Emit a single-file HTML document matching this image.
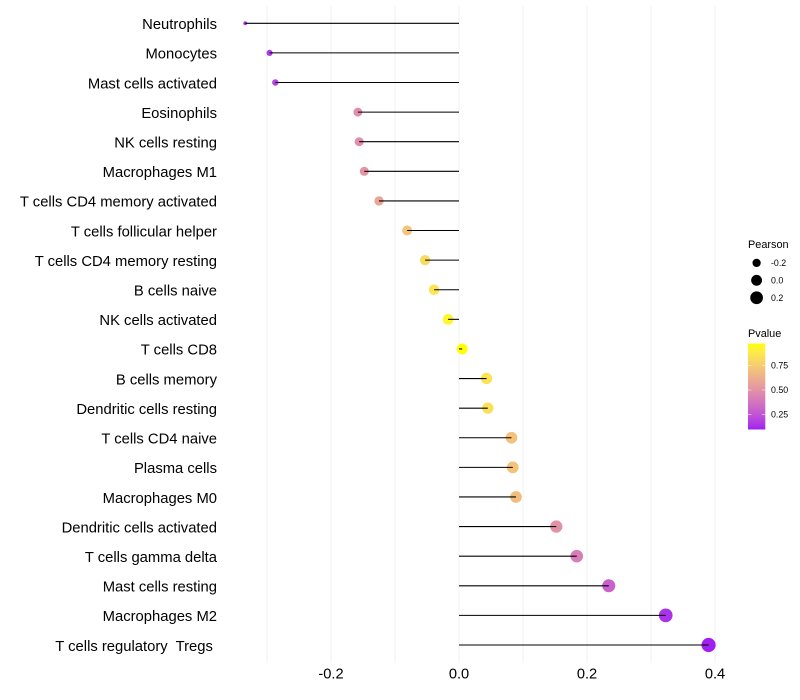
<!DOCTYPE html>
<html>
<head>
<meta charset="utf-8">
<title>Immune cell correlation lollipop chart</title>
<style>
html,body{margin:0;padding:0;background:#fff;}
svg{display:block;font-family:"Liberation Sans",sans-serif;}
</style>
</head>
<body>
<svg id="chart" xmlns="http://www.w3.org/2000/svg" width="800" height="700" viewBox="0 0 800 700">
  <defs><linearGradient id="pvalue-gradient" x1="0" y1="1" x2="0" y2="0"></linearGradient></defs>
  <g id="grid"></g>
  <g id="dots"></g>
  <g id="stems"></g>
  <g id="ylabels"></g>
  <g id="xlabels"></g>
  <g id="size-legend">
    <text x="748" y="248" font-size="10.9" fill="#000">Pearson</text>
  </g>
  <g id="color-legend">
    <text x="748" y="337" font-size="10.9" fill="#000">Pvalue</text>
  </g>
</svg>
<script>
const categories = ["Neutrophils","Monocytes","Mast cells activated","Eosinophils","NK cells resting","Macrophages M1","T cells CD4 memory activated","T cells follicular helper","T cells CD4 memory resting","B cells naive","NK cells activated","T cells CD8","B cells memory","Dendritic cells resting","T cells CD4 naive","Plasma cells","Macrophages M0","Dendritic cells activated","T cells gamma delta","Mast cells resting","Macrophages M2","T cells regulatory  Tregs "];
const pearson = [-0.334,-0.296,-0.287,-0.158,-0.156,-0.148,-0.125,-0.081,-0.053,-0.039,-0.017,0.005,0.043,0.045,0.082,0.084,0.089,0.152,0.184,0.234,0.323,0.39];
const pvalue = [0.13,0.17,0.19,0.48,0.48,0.51,0.58,0.72,0.81,0.86,0.94,0.974,0.85,0.84,0.71,0.71,0.69,0.5,0.41,0.3,0.14,0.097];
const xMajorTicks = [-0.2,0,0.2,0.4];
const xMinorTicks = [-0.3,-0.1,0.1,0.3];
const xTickLabels = ["-0.2","0.0","0.2","0.4"];
const sizeLegendValues = [-0.2,0,0.2];
const sizeLegendLabels = ["-0.2","0.0","0.2"];
const colorLegendValues = [0.25,0.5,0.75];
const colorLegendLabels = ["0.25","0.50","0.75"];
const pvalueLimits = [0.097,0.974];

const NS = "http://www.w3.org/2000/svg";
function make(parent, tag, attrs, text){
  const el = document.createElementNS(NS, tag);
  for (const k in attrs) el.setAttribute(k, attrs[k]);
  if (text !== undefined) el.textContent = text;
  document.getElementById(parent).appendChild(el);
  return el;
}
const xScale = v => 459 + 640 * v;
const yScale = i => 23.29 + 29.605 * i;
const pearsonMin = Math.min(...pearson), pearsonMax = Math.max(...pearson);
const radius = v => 1.9 + 5.2 * Math.sqrt(Math.max(0, (v - pearsonMin) / (pearsonMax - pearsonMin)));

function rgb2lab(c){
  const f = x => { x/=255; return x>0.04045?Math.pow((x+0.055)/1.055,2.4):x/12.92; };
  const r=f(c[0]),g=f(c[1]),b=f(c[2]);
  const g1 = t => t>0.008856?Math.cbrt(t):7.787*t+16/116;
  const X=g1((0.4124*r+0.3576*g+0.1805*b)/0.95047),Y=g1(0.2126*r+0.7152*g+0.0722*b),Z=g1((0.0193*r+0.1192*g+0.9505*b)/1.08883);
  return [116*Y-16,500*(X-Y),200*(Y-Z)];
}
function lab2rgb(l){
  const fy=(l[0]+16)/116,fx=l[1]/500+fy,fz=fy-l[2]/200;
  const h = t => t*t*t>0.008856?t*t*t:(t-16/116)/7.787;
  const X=h(fx)*0.95047,Y=h(fy),Z=h(fz)*1.08883;
  const lin=[3.2406*X-1.5372*Y-0.4986*Z,-0.9689*X+1.8758*Y+0.0415*Z,0.0557*X-0.204*Y+1.057*Z];
  const out=lin.map(u=>{u=Math.max(0,Math.min(1,u));return Math.round(255*(u>0.0031308?1.055*Math.pow(u,1/2.4)-0.055:12.92*u));});
  return "rgb("+out.join(",")+")";
}
const labLow = rgb2lab([160,32,240]), labHigh = rgb2lab([255,255,0]);
const colorAt = t => lab2rgb(labLow.map((a,i)=>a+(labHigh[i]-a)*t));
const colorScale = p => colorAt(Math.max(0,Math.min(1,(p-pvalueLimits[0])/(pvalueLimits[1]-pvalueLimits[0]))));

/* grid */
xMinorTicks.forEach(v => {
  const el = make("grid","line",{x1:xScale(v),x2:xScale(v),y1:5.5,y2:662.8,stroke:"#f2f2f2","stroke-width":1});
  
  
});
xMajorTicks.forEach(v => {
  const el = make("grid","line",{x1:xScale(v),x2:xScale(v),y1:5.5,y2:662.8,stroke:"#f2f2f2","stroke-width":1});
  
  
});

/* marks */
categories.forEach((name,i) => {
  const y = yScale(i), v = pearson[i];
  const dot = make("dots","circle",{cx:xScale(v),cy:y,r:radius(v),fill:colorScale(pvalue[i])});
  
  
  const stem = make("stems","line",{x1:xScale(0),x2:xScale(v),y1:y,y2:y,stroke:"#000","stroke-width":1.07});
  
  
  const label = make("ylabels","text",{x:217,y:y+5.8,"text-anchor":"end","font-size":14.8,fill:"#000"},name);
  label.setAttribute('xml:space', 'preserve');
  label.style.whiteSpace = "pre";
  
  
});

/* x axis labels */
xMajorTicks.forEach((v,i) => {
  const t = make("xlabels","text",{x:xScale(v),y:678.5,"text-anchor":"middle","font-size":14.67,fill:"#000"},xTickLabels[i]);
  
  
});

/* size legend */
sizeLegendValues.forEach((v,i) => {
  const y = 262.9 + 17.4 * i;
  const c = make("size-legend","circle",{cx:756.6,cy:y,r:radius(v),fill:"#000"});
  
  
  const t = make("size-legend","text",{x:771,y:y+3.1,"font-size":8.8,fill:"#000"},sizeLegendLabels[i]);
  
  
});

/* colour legend */
const grad = document.getElementById("pvalue-gradient");
for (let s = 0; s <= 20; s++){
  const st = document.createElementNS(NS,"stop");
  st.setAttribute("offset", s/20);
  st.setAttribute("stop-color", colorAt(s/20));
  grad.appendChild(st);
}
const barTop = 343.5, barBottom = 429.5, barLeft = 748, barRight = 765.3;
const barY = p => barBottom - (p-pvalueLimits[0])/(pvalueLimits[1]-pvalueLimits[0])*(barBottom-barTop);
const bar = make("color-legend","rect",{x:barLeft,y:barTop,width:barRight-barLeft,height:barBottom-barTop,fill:"url(#pvalue-gradient)"});


colorLegendValues.forEach((p,i) => {
  const y = barY(p);
  const a = make("color-legend","line",{x1:barLeft,x2:barLeft+3.4,y1:y,y2:y,stroke:"#fff","stroke-width":0.5});
  
  
  const b = make("color-legend","line",{x1:barRight-3.4,x2:barRight,y1:y,y2:y,stroke:"#fff","stroke-width":0.5});
  
  
  const t = make("color-legend","text",{x:771,y:y+3.1,"font-size":8.8,fill:"#000"},colorLegendLabels[i]);
  
  
});
</script>
</body>
</html>
